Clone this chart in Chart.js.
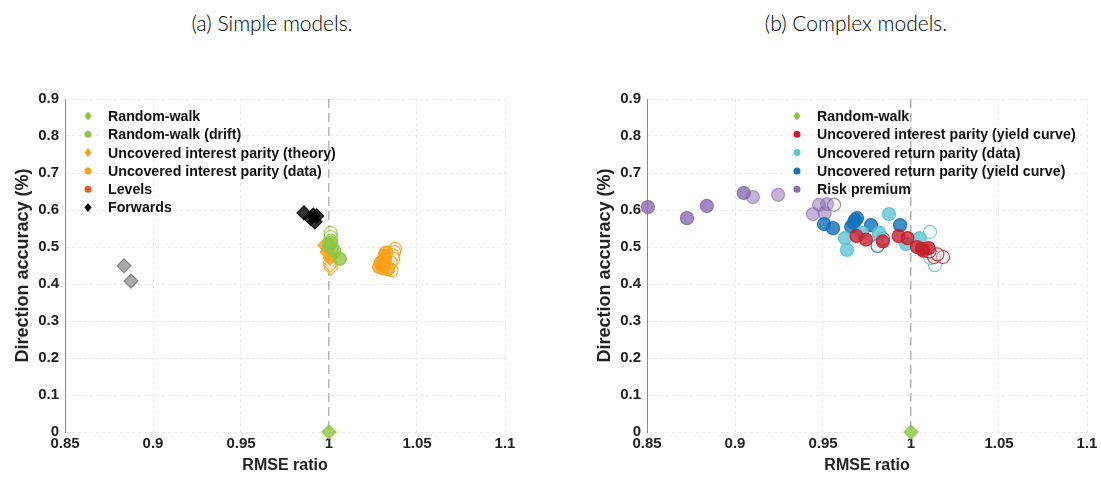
<!DOCTYPE html>
<html>
<head>
<meta charset="utf-8">
<script src="https://cdn.jsdelivr.net/npm/chart.js@4/dist/chart.umd.min.js"></script>
<style>
  html, body { margin: 0; padding: 0; background: #fff; }
  #wrap { position: relative; width: 1101px; height: 479px; overflow: hidden; }
  .ttl { position: absolute; top: 10px; font-family: Lato, "Open Sans", sans-serif; font-weight: 300; font-size: 21px; color: #000; white-space: nowrap; transform: translateX(-50%); }
  canvas { position: absolute; top: 0; }
</style>
</head>
<body>
<div id="wrap">
  <div class="ttl" style="left:272px">(a) Simple models.</div>
  <div class="ttl" style="left:856px">(b) Complex models.</div>
  <canvas id="left" width="540" height="479" style="left:0;width:540px;height:479px"></canvas>
  <canvas id="right" width="519" height="479" style="left:582px;width:519px;height:479px"></canvas>
</div>
<script>
// ---- axis ticks ----
const xTicks = [0.85, 0.9, 0.95, 1, 1.05, 1.1];
const yTicks = [0, 0.1, 0.2, 0.3, 0.4, 0.5, 0.6, 0.7, 0.8, 0.9];

// ---- (a) simple models ----
const rwX = [1];
const rwY = [0];
const rwDriftX = [1.0062, 1.0, 1.001, 1.003];
const rwDriftY = [0.468, 0.505, 0.512, 0.49];
const rwDriftOpenX = [1.001, 1.001, 1.0012, 1.0015];
const rwDriftOpenY = [0.538, 0.527, 0.517, 0.5];
const uipTheoryX = [0.9977, 0.999, 1.0006, 1.0];
const uipTheoryY = [0.505, 0.486, 0.47, 0.495];
const uipTheoryOpenX = [1.0006, 1.0011, 1.0008];
const uipTheoryOpenY = [0.459, 0.443, 0.451];
const uipDataX = [1.0295, 1.0305, 1.0315, 1.032, 1.0325, 1.0285, 1.031, 1.0335];
const uipDataY = [0.459, 0.443, 0.476, 0.468, 0.485, 0.446, 0.452, 0.44];
const uipDataOpenX = [1.0375, 1.037, 1.036, 1.0365, 1.035, 1.034, 1.0355];
const uipDataOpenY = [0.495, 0.487, 0.478, 0.468, 0.459, 0.443, 0.437];
const levelsX = [];
const levelsY = [];
const fwdX = [0.9858, 0.991, 0.992, 0.993, 0.9895];
const fwdY = [0.592, 0.586, 0.568, 0.584, 0.578];
const fwdGreyX = [0.8835, 0.8875];
const fwdGreyY = [0.449, 0.408];

// ---- (b) complex models ----
const uipYcX = [0.969, 0.9744, 0.984, 0.993, 0.998, 1.0034, 1.0062, 1.01, 1.007];
const uipYcY = [0.53, 0.52, 0.515, 0.53, 0.524, 0.5, 0.495, 0.497, 0.49];
const uipYcOpenX = [1.0131, 1.0182, 1.015, 1.0105];
const uipYcOpenY = [0.473, 0.473, 0.48, 0.488];
const urpDataX = [0.9875, 0.9625, 0.9636, 0.9722, 0.9972, 1.005, 0.9818];
const urpDataY = [0.589, 0.524, 0.492, 0.538, 0.508, 0.524, 0.538];
const urpDataOpenX = [1.0108, 1.0136, 1.011, 1.009];
const urpDataOpenY = [0.541, 0.451, 0.47, 0.49];
const urpYcX = [0.9506, 0.9557, 0.9682, 0.9693, 0.9675, 0.9773, 0.9938, 0.966];
const urpYcY = [0.562, 0.551, 0.573, 0.578, 0.565, 0.559, 0.559, 0.555];
const urpYcOpenX = [0.9818, 0.981, 0.9841];
const urpYcOpenY = [0.538, 0.503, 0.522];
const riskX = [0.8505, 0.8727, 0.884, 0.905];
const riskY = [0.608, 0.578, 0.611, 0.646];
const riskLightX = [0.9102, 0.9245, 0.9443, 0.9477, 0.951, 0.9523];
const riskLightY = [0.635, 0.641, 0.589, 0.614, 0.592, 0.616];
const riskOpenX = [0.9563];
const riskOpenY = [0.614];

const GREEN = '#8cc63e', ORANGE = '#f7a11a', LEVELS = '#ea5a24',
      RED = '#c8202f', CYAN = '#5ec4d4', BLUE = '#1372b9', PURPLE = '#8a6bb1';

function pts(xs, ys) {
    return xs.map((x, i) => ({x: x, y: ys[i]}));
}

function hexA(hex, a) {
    const n = parseInt(hex.slice(1), 16);
    return 'rgba(' + (n >> 16) + ',' + ((n >> 8) & 255) + ',' + (n & 255) + ',' + a + ')';
}

/**
 * Builds one scatter dataset.
 * kind: 'filled' | 'open' | 'light'
 */
function ds(label, xs, ys, color, shape, kind, legend) {
    let fill = hexA(color, 0.8), border = hexA(color, 0.9);
    if (kind === 'open') { fill = 'rgba(255,255,255,0.35)'; border = hexA(color, 0.85); }
    if (kind === 'light') { fill = hexA(color, 0.5); border = hexA(color, 0.6); }
    return {
        label: label,
        data: pts(xs, ys),
        showInLegend: legend,
        legendColor: color,
        clip: false,
        pointStyle: shape === 'diamond' ? 'rectRot' : 'circle',
        pointRadius: shape === 'diamond' ? 7 : 6.5,
        pointHoverRadius: 7,
        pointBorderWidth: 1.2,
        backgroundColor: fill,
        borderColor: border,
    };
}

const legendPlugin = {
    id: 'inLegend',
    afterDraw(chart, args, opts) {
        const ctx = chart.ctx, area = chart.chartArea;
        let y = area.top + opts.top;
        ctx.save();
        ctx.font = 'bold 14.2px "Liberation Sans", Arial, sans-serif';
        ctx.textBaseline = 'middle';
        chart.data.datasets.filter(d => d.showInLegend).forEach(d => {
            const x = area.left + opts.left;
            ctx.fillStyle = d.legendColor;
            ctx.beginPath();
            if (d.pointStyle === 'rectRot') {
                ctx.moveTo(x, y - 4.5); ctx.lineTo(x + 3.5, y); ctx.lineTo(x, y + 4.5); ctx.lineTo(x - 3.5, y);
            } else {
                ctx.arc(x, y, 3.5, 0, Math.PI * 2);
            }
            ctx.closePath();
            ctx.fill();
            ctx.fillStyle = '#111';
            ctx.fillText(d.label, x + 20, y + 1);
            y += 18.3;
        });
        ctx.restore();
    }
};

function makeChart(id, datasets, legendLeft, rightPad) {
    const tickFont = {family: '"Liberation Sans", Arial, sans-serif', size: 15, weight: 'bold'};
    const xTitleFont = {family: '"Liberation Sans", Arial, sans-serif', size: 16, weight: 'bold'};
    const yTitleFont = {family: '"Liberation Sans", Arial, sans-serif', size: 18, weight: 'bold'};
    return new Chart(document.getElementById(id), {
        type: 'scatter',
        data: {datasets: datasets},
        options: {
            responsive: false,
            animation: false,
            layout: {padding: {top: 99, right: rightPad, bottom: 0, left: 8}},
            plugins: {
                legend: {display: false},
                tooltip: {enabled: false},
                inLegend: {left: legendLeft, top: 17},
            },
            scales: {
                x: {
                    type: 'linear', min: 0.85, max: 1.1,
                    afterBuildTicks: s => { s.ticks = xTicks.map(v => ({value: v})); },
                    afterFit: s => { s.height = 47; },
                    ticks: {font: tickFont, color: '#222', padding: 3, callback: v => String(v)},
                    grid: {
                        drawTicks: false,
                        color: c => (c.tick && c.tick.value === 1) ? '#b4b4b4' : '#e8e8e8',
                        lineWidth: c => (c.tick && c.tick.value === 1) ? 1.5 : 1,
                    },
                    border: {display: false, dash: c => (c.tick && c.tick.value === 1) ? [9, 5] : [3, 3]},
                    title: {display: true, text: 'RMSE ratio', font: xTitleFont, color: '#222', padding: {top: 0}},
                },
                y: {
                    type: 'linear', min: 0, max: 0.9,
                    afterBuildTicks: s => { s.ticks = yTicks.map(v => ({value: v})); },
                    afterFit: s => { s.width = 57; },
                    ticks: {font: tickFont, color: '#222', padding: 6, callback: v => String(v)},
                    grid: {drawTicks: false, color: '#e8e8e8'},
                    border: {display: true, color: '#8a8a8a', width: 1, dash: [3, 3]},
                    title: {display: true, text: 'Direction accuracy (%)', font: yTitleFont, color: '#222', padding: {bottom: 0}},
                },
            },
        },
        plugins: [legendPlugin],
    });
}

makeChart('left', [
    ds('Random-walk', rwX, rwY, GREEN, 'diamond', 'filled', true),
    ds('Random-walk (drift)', rwDriftX, rwDriftY, GREEN, 'circle', 'filled', true),
    ds('', rwDriftOpenX, rwDriftOpenY, GREEN, 'circle', 'open', false),
    ds('Uncovered interest parity (theory)', uipTheoryX, uipTheoryY, ORANGE, 'diamond', 'filled', true),
    ds('', uipTheoryOpenX, uipTheoryOpenY, ORANGE, 'diamond', 'open', false),
    ds('Uncovered interest parity (data)', uipDataX, uipDataY, ORANGE, 'circle', 'filled', true),
    ds('', uipDataOpenX, uipDataOpenY, ORANGE, 'circle', 'open', false),
    ds('Levels', levelsX, levelsY, LEVELS, 'circle', 'filled', true),
    ds('Forwards', fwdX, fwdY, '#000000', 'diamond', 'filled', true),
    ds('', fwdGreyX, fwdGreyY, '#555555', 'diamond', 'light', false),
], 23, 35);

makeChart('right', [
    ds('Random-walk', rwX, rwY, GREEN, 'diamond', 'filled', true),
    ds('Uncovered interest parity (yield curve)', uipYcX, uipYcY, RED, 'circle', 'filled', true),
    ds('', uipYcOpenX, uipYcOpenY, RED, 'circle', 'open', false),
    ds('Uncovered return parity (data)', urpDataX, urpDataY, CYAN, 'circle', 'filled', true),
    ds('', urpDataOpenX, urpDataOpenY, CYAN, 'circle', 'open', false),
    ds('Uncovered return parity (yield curve)', urpYcX, urpYcY, BLUE, 'circle', 'filled', true),
    ds('', urpYcOpenX, urpYcOpenY, BLUE, 'circle', 'open', false),
    ds('Risk premium', riskX, riskY, PURPLE, 'circle', 'filled', true),
    ds('', riskLightX, riskLightY, PURPLE, 'circle', 'light', false),
    ds('', riskOpenX, riskOpenY, PURPLE, 'circle', 'open', false),
], 150, 14);
</script>
</body>
</html>
